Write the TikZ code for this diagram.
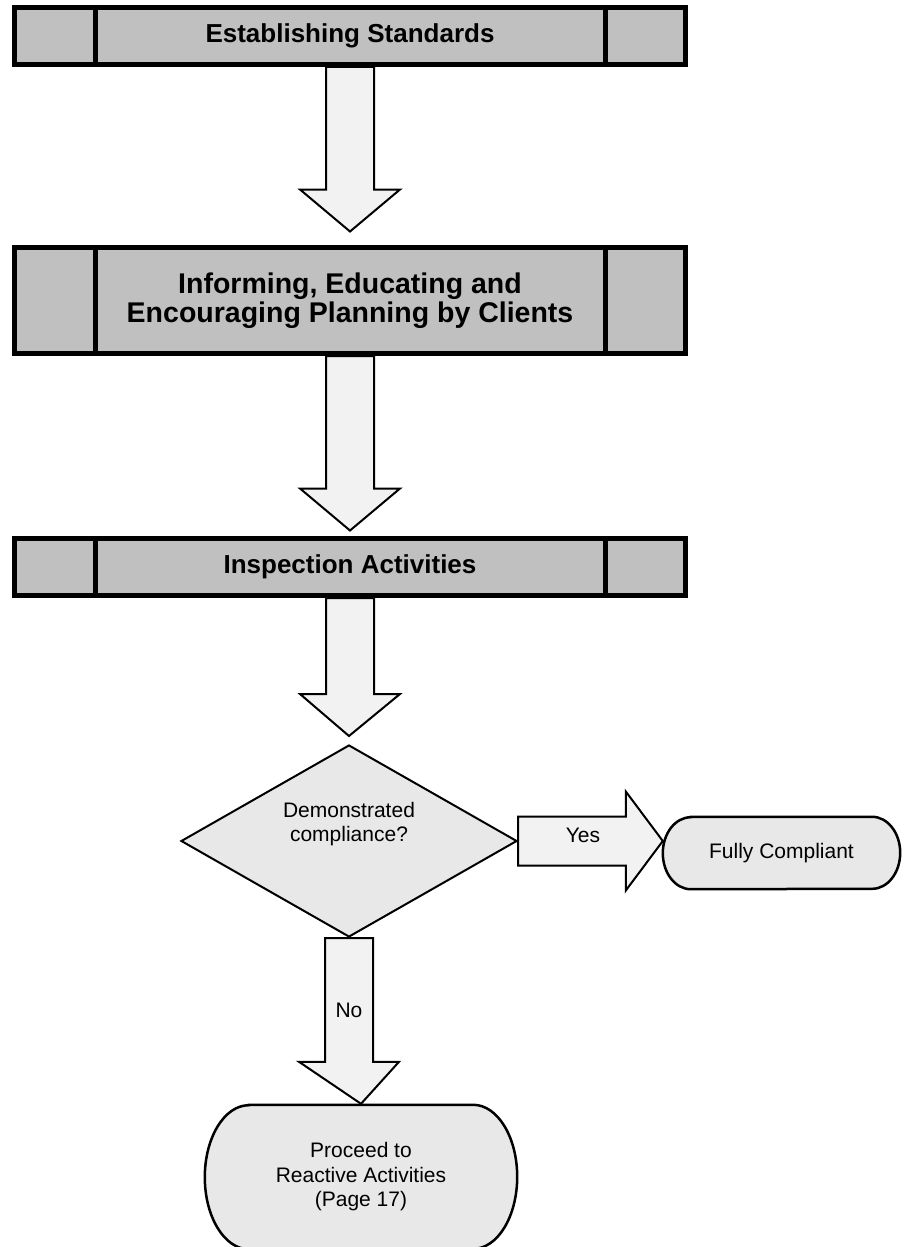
\documentclass[tikz,border=0pt]{standalone}
\usepackage{fontspec}
\setmainfont{Liberation Sans}
\usetikzlibrary{shapes.geometric,calc}
\definecolor{stagegray}{HTML}{C0C0C0}
\definecolor{arrowgray}{HTML}{F2F2F2}
\definecolor{termgray}{HTML}{E8E8E8}
\pgfdeclarelayer{bg}
\pgfsetlayers{bg,main}

% downward block arrow: shaft from #1, tip at #2
\newcommand\dropshaft[2]{%
  \draw[blockarrow] let \p1=(#1), \p2=(#2) in
    (\x1-24pt,\y1) -- (\x1-24pt,\y2+42pt) -- (\x1-50pt,\y2+42pt) -- (\x2,\y2)
    -- (\x1+50pt,\y2+42pt) -- (\x1+24pt,\y2+42pt) -- (\x1+24pt,\y1) -- cycle;}
% rightward block arrow: shaft from #1, tip at #2
\newcommand\sideshaft[2]{%
  \draw[blockarrow] let \p1=(#1), \p2=(#2) in
    (\x1,\y1+24.5pt) -- (\x2-37pt,\y1+24.5pt) -- (\x2-37pt,\y1+49.5pt) -- (\x2,\y1)
    -- (\x2-37pt,\y1-49.5pt) -- (\x2-37pt,\y1-24.5pt) -- (\x1,\y1-24.5pt) -- cycle;}
% terminal outline with elliptical ends around node #1
\newcommand\stadium[3]{%
  \draw[terminal] ([xshift=#2]#1.north west) -- ([xshift=-#2]#1.north east)
    arc[start angle=90,end angle=-90,x radius=#2,y radius=#3]
    -- ([xshift=#2]#1.south west)
    arc[start angle=270,end angle=90,x radius=#2,y radius=#3] -- cycle;}

\begin{document}
\begin{tikzpicture}[x=1pt,y=-1pt,
  stagebox/.style={draw=black, line width=5pt, fill=stagegray, minimum width=671pt,
    inner sep=0pt, align=center, font=\bfseries\fontsize{26}{28}\selectfont},
  divider/.style={line width=5pt},
  blockarrow/.style={draw=black, line width=2pt, fill=arrowgray, line join=miter},
  decision/.style={diamond, draw=black, line width=2pt, fill=termgray,
    minimum width=336pt, minimum height=192pt, inner sep=0pt},
  terminal/.style={draw=black, line width=2.5pt, fill=termgray},
  termtext/.style={inner sep=0pt, align=center, font=\fontsize{21}{24.5}\selectfont},
  flowlabel/.style={inner sep=0pt, font=\fontsize{21}{24}\selectfont}]

\useasboundingbox (0,0) rectangle (904,1247);

% stages
\node (b1) [stagebox, minimum height=57pt] at (350,36) {Establishing Standards};
\node (b2) [stagebox, minimum height=106pt, font=\bfseries\fontsize{28.5}{29}\selectfont]
  at (350,300.5) {Informing, Educating and\\Encouraging Planning by Clients};
\node (b3) [stagebox, minimum height=57pt] at (350,567) {Inspection Activities};
\foreach \b in {b1,b2,b3}{
  \draw[divider] ([xshift=-255pt]\b.north) -- ([xshift=-255pt]\b.south);
  \draw[divider] ([xshift=255pt]\b.north) -- ([xshift=255pt]\b.south);
}

% decision
\node (dec) [decision] at (349,841) {};
\node (q) [termtext, align=center, font=\fontsize{21}{24}\selectfont] at (349,824)
  {Demonstrated\\compliance?};

% terminals
\node (fc) [termtext, minimum width=237pt, minimum height=72pt] at (781.5,853) {Fully Compliant};
\node (proc) [termtext, minimum width=312pt, minimum height=144pt] at (361,1177)
  {Proceed to\\Reactive Activities\\(Page 17)};

\begin{pgfonlayer}{bg}
  \stadium{fc}{28pt}{36pt}
  \stadium{proc}{44pt}{72pt}
  \dropshaft{b1.south}{$(b2.north)+(0,-13.5)$}
  \dropshaft{b2.south}{$(b3.north)+(0,-5.5)$}
  \dropshaft{b3.south}{$(dec.north)+(0,-8)$}
  \dropshaft{dec.south}{$(proc.north)+(0,-1)$}
  \sideshaft{dec.east}{fc.west |- dec.east}
\end{pgfonlayer}

% connector labels
\node (yes) [flowlabel] at (583,835) {Yes};
\node (no) [flowlabel] at (349,1010) {No};
\end{tikzpicture}
\end{document}
